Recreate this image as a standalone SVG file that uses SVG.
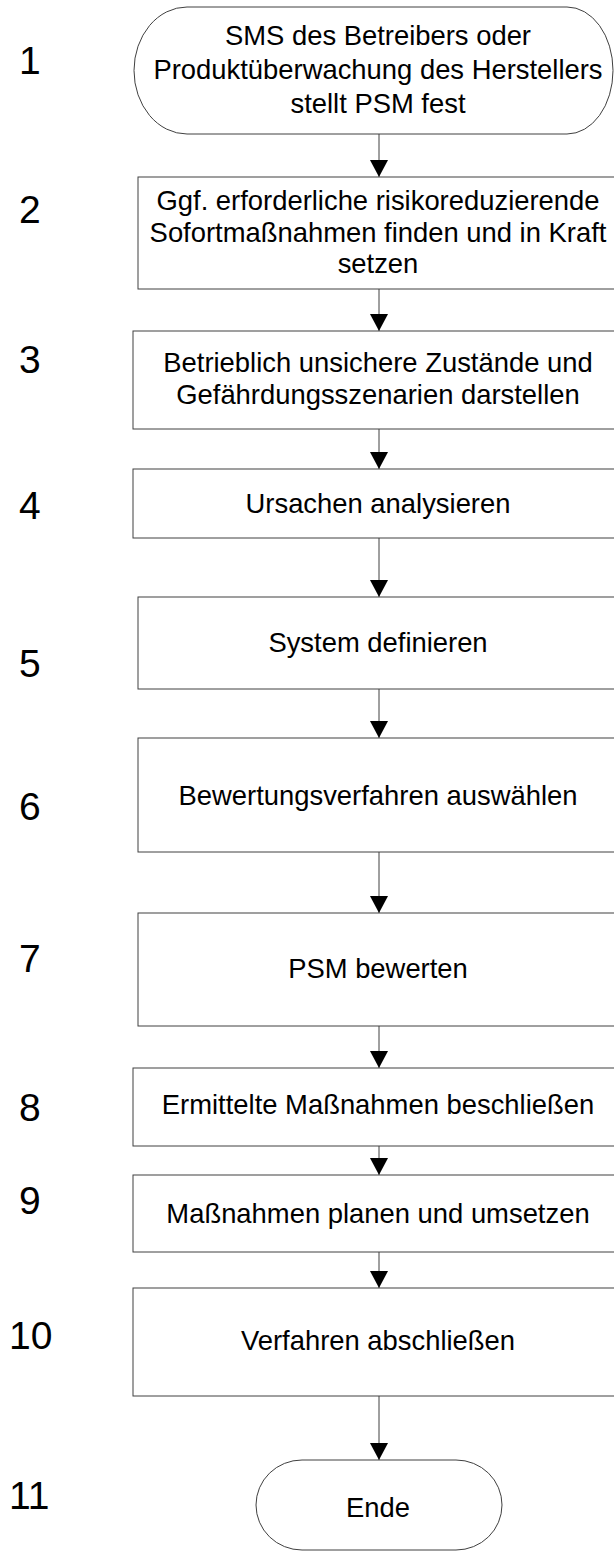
<svg xmlns="http://www.w3.org/2000/svg" width="614" height="1553" viewBox="0 0 614 1553">
<style>
.box{fill:#fff;stroke:#404040;stroke-width:1}
.t{font-family:"Liberation Sans",Arial,sans-serif;font-size:27.4px;fill:#000;text-anchor:middle}
.n{font-family:"Liberation Sans",Arial,sans-serif;font-size:39px;fill:#000}
.c{stroke:#404040;stroke-width:1;fill:none;marker-end:url(#ah)}
</style>
<defs>
<marker id="ah" markerUnits="userSpaceOnUse" markerWidth="18" markerHeight="18" refX="17" refY="9" orient="auto">
<path d="M0,0 L17,9 L0,18 Z" fill="#000"/>
</marker>
</defs>
<rect width="614" height="1553" fill="#fff"/>
<g id="numbers">
<text class="n" x="19" y="74">1</text>
<text class="n" x="19" y="223">2</text>
<text class="n" x="19" y="373">3</text>
<text class="n" x="19" y="519">4</text>
<text class="n" x="19" y="677">5</text>
<text class="n" x="19" y="820">6</text>
<text class="n" x="19" y="972">7</text>
<text class="n" x="19" y="1121">8</text>
<text class="n" x="19" y="1214">9</text>
<text class="n" x="9" y="1349">10</text>
<text class="n" x="9" y="1509">11</text>
</g>
<g id="connectors">
<line class="c" x1="379" y1="134" x2="379" y2="177"/>
<line class="c" x1="379" y1="289" x2="379" y2="331"/>
<line class="c" x1="379" y1="429" x2="379" y2="469"/>
<line class="c" x1="379" y1="538" x2="379" y2="597"/>
<line class="c" x1="379" y1="689" x2="379" y2="738"/>
<line class="c" x1="379" y1="852" x2="379" y2="913"/>
<line class="c" x1="379" y1="1026" x2="379" y2="1068"/>
<line class="c" x1="379" y1="1146" x2="379" y2="1175"/>
<line class="c" x1="379" y1="1252" x2="379" y2="1288"/>
<line class="c" x1="379" y1="1396" x2="379" y2="1460"/>
</g>
<g id="node1">
<path class="box" d="M187,7 H567 A46,63.5 0 0 1 613,70.5 A46,63.5 0 0 1 567,134 H187 A53,63.5 0 0 1 134,70.5 A53,63.5 0 0 1 187,7 Z"/>
<text class="t" x="378" y="45">SMS des Betreibers oder</text>
<text class="t" x="378" y="79">Produktüberwachung des Herstellers</text>
<text class="t" x="378" y="113">stellt PSM fest</text>
</g>
<g id="node2">
<rect class="box" x="138" y="177" width="490" height="112"/>
<text class="t" x="378" y="210">Ggf. erforderliche risikoreduzierende</text>
<text class="t" x="378" y="242">Sofortmaßnahmen finden und in Kraft</text>
<text class="t" x="378" y="273">setzen</text>
</g>
<g id="node3">
<rect class="box" x="133" y="331" width="495" height="98"/>
<text class="t" x="378" y="372">Betrieblich unsichere Zustände und</text>
<text class="t" x="378" y="404">Gefährdungsszenarien darstellen</text>
</g>
<g id="node4">
<rect class="box" x="133" y="469" width="495" height="69"/>
<text class="t" x="378" y="513">Ursachen analysieren</text>
</g>
<g id="node5">
<rect class="box" x="138" y="597" width="490" height="92"/>
<text class="t" x="378" y="652">System definieren</text>
</g>
<g id="node6">
<rect class="box" x="138" y="738" width="490" height="114"/>
<text class="t" x="378" y="805">Bewertungsverfahren auswählen</text>
</g>
<g id="node7">
<rect class="box" x="138" y="913" width="490" height="113"/>
<text class="t" x="378" y="978">PSM bewerten</text>
</g>
<g id="node8">
<rect class="box" x="133" y="1068" width="495" height="78"/>
<text class="t" x="378" y="1114">Ermittelte Maßnahmen beschließen</text>
</g>
<g id="node9">
<rect class="box" x="133" y="1175" width="495" height="77"/>
<text class="t" x="378" y="1223">Maßnahmen planen und umsetzen</text>
</g>
<g id="node10">
<rect class="box" x="133" y="1288" width="495" height="108"/>
<text class="t" x="378" y="1350">Verfahren abschließen</text>
</g>
<g id="node11">
<path class="box" d="M302,1460 H456 A46,45 0 0 1 456,1550 H302 A46,45 0 0 1 302,1460 Z"/>
<text class="t" x="378" y="1517">Ende</text>
</g>
</svg>
